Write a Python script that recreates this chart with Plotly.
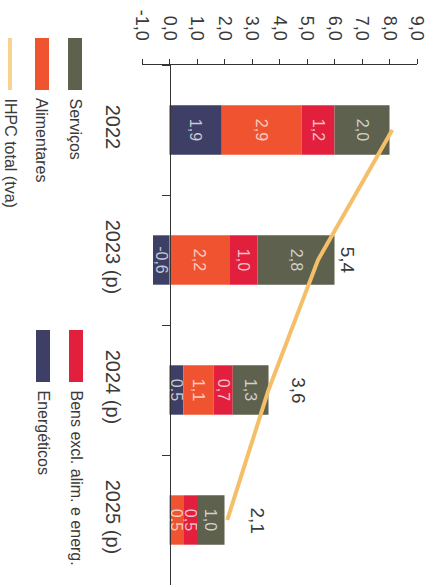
import plotly.graph_objects as go

# ---- data ----
categories = ["2022", "2023 (p)", "2024 (p)", "2025 (p)"]
energeticos = [1.9, -0.6, 0.5, None]
alimentares = [2.9, 2.2, 1.1, 0.5]
bens_excl = [1.2, 1.0, 0.7, 0.5]
servicos = [2.0, 2.8, 1.3, 1.0]
ihpc_total = [8.1, 5.4, 3.6, 2.1]
value_ticks = [-1, 0, 1, 2, 3, 4, 5, 6, 7, 8, 9]
value_tick_labels = ["-1,0", "0,0", "1,0", "2,0", "3,0", "4,0", "5,0", "6,0", "7,0", "8,0", "9,0"]

series_names = ["Energéticos", "Alimentares", "Bens excl. alim. e energ.", "Serviços"]
series_values = [energeticos, alimentares, bens_excl, servicos]
series_colors = ["#3d3f66", "#f0532f", "#e2203e", "#5d614d"]
line_name = "IHPC total (tva)"
line_color = "#f4bf68"

FONT = "Liberation Sans, Arial, sans-serif"
TXT = "#3a3a3a"


def fmt(v):
    return "" if v is None else f"{v:.1f}".replace(".", ",")


fig = go.Figure()
for name, vals, col in zip(series_names, series_values, series_colors):
    fig.add_trace(go.Bar(
        y=categories, x=vals, orientation="h", name=name,
        marker=dict(color=col, line=dict(width=0)),
        width=0.38,
        text=[fmt(v) for v in vals],
        textposition="inside", insidetextanchor="middle",
        textangle=90, constraintext="none",
        textfont=dict(family=FONT, size=16, color="rgba(255,255,255,0.72)"),
        showlegend=False, hoverinfo="skip",
    ))

fig.add_trace(go.Scatter(
    x=ihpc_total, y=categories, mode="lines", name=line_name,
    line=dict(color=line_color, width=4), showlegend=False, hoverinfo="skip",
))

annotations = []
for cat, tot in zip(categories, ihpc_total):
    annotations.append(dict(
        x=min(tot + 1.1, 8.7), y=cat, xref="x", yref="y",
        text=fmt(tot), textangle=90, showarrow=False,
        xanchor="center", yanchor="middle",
        font=dict(family=FONT, size=19, color=TXT),
    ))

# ---- custom rotated legend ----
def px_to_paper_x(px):
    return (px - 142) / 275.0


def px_to_paper_y(py):
    return (585 - py) / 520.0


legend_items = [
    # name, color, kind, center x px, top y px
    ("Serviços", series_colors[3], "rect", 75, 38),
    ("Alimentares", series_colors[1], "rect", 42, 38),
    (line_name, line_color, "line", 10, 38),
    ("Bens excl. alim. e energ.", series_colors[2], "rect", 76, 330),
    ("Energéticos", series_colors[0], "rect", 43, 330),
]
shapes = []
for name, col, kind, cx, top in legend_items:
    if kind == "rect":
        shapes.append(dict(
            type="rect", xref="paper", yref="paper",
            x0=px_to_paper_x(cx - 7), x1=px_to_paper_x(cx + 7),
            y0=px_to_paper_y(top + 52), y1=px_to_paper_y(top),
            fillcolor=col, line=dict(width=0), layer="above",
        ))
    else:
        shapes.append(dict(
            type="line", xref="paper", yref="paper",
            x0=px_to_paper_x(cx), x1=px_to_paper_x(cx),
            y0=px_to_paper_y(top + 52), y1=px_to_paper_y(top),
            line=dict(color="#f8d38e", width=4), layer="above",
        ))
    annotations.append(dict(
        x=px_to_paper_x(cx), y=px_to_paper_y(top + 58), xref="paper", yref="paper",
        text=name, textangle=90, showarrow=False,
        xanchor="center", yanchor="top",
        font=dict(family=FONT, size=16, color=TXT),
    ))

fig.update_layout(
    width=438, height=587, autosize=False,
    margin=dict(l=142, r=21, t=65, b=2),
    paper_bgcolor="white", plot_bgcolor="white",
    barmode="relative", bargap=0.6,
    font=dict(family=FONT, color=TXT),
    showlegend=False,
    annotations=annotations, shapes=shapes,
    xaxis=dict(
        range=[-1, 9], side="top", domain=[0, 1],
        tickvals=value_ticks, ticktext=value_tick_labels,
        tickangle=90, ticks="outside", ticklen=5, tickcolor="#333",
        showline=True, linecolor="#333", linewidth=1,
        showgrid=False, zeroline=False,
        tickfont=dict(family=FONT, size=18, color=TXT),
        ticklabelstandoff=12,
    ),
    yaxis=dict(
        type="category", categoryorder="array", categoryarray=categories,
        range=[3.5, -0.5],
        anchor="free", position=0.1, side="left",
        showline=True, linecolor="#333", linewidth=1,
        ticks="outside", tickson="boundaries", ticklen=8, tickcolor="#333",
        tickangle=90, ticklabelstandoff=40,
        showgrid=False, zeroline=False,
        tickfont=dict(family=FONT, size=20, color=TXT),
    ),
)

fig.write_html(
    "out.html",
    config={"displayModeBar": False, "staticPlot": True},
    post_script="document.body.style.margin='0';document.body.style.padding='0';",
)
